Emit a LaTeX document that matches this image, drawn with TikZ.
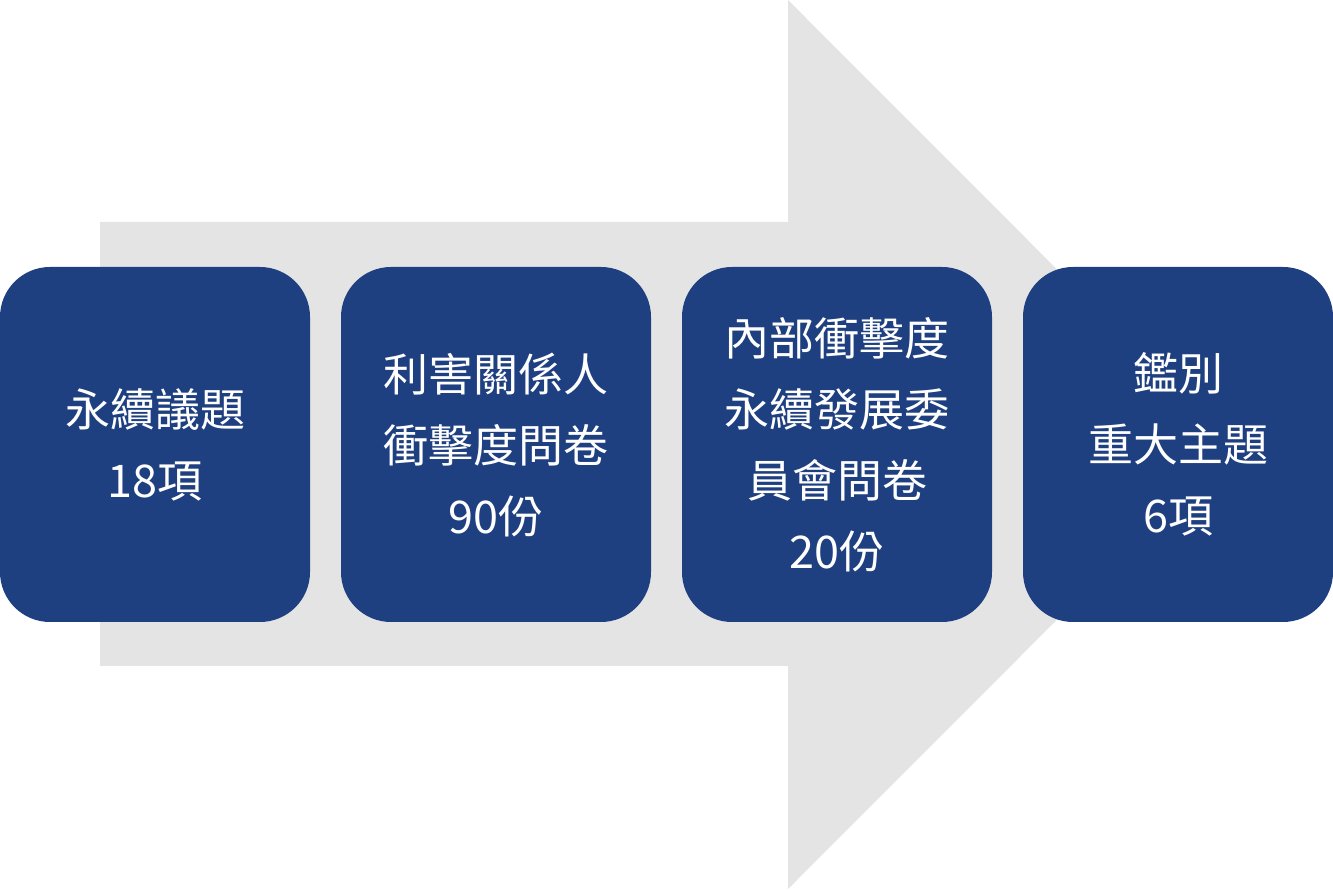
\documentclass[tikz,border=0pt]{standalone}
\usepackage{fontspec}
\setmainfont{Noto Sans CJK TC}
\definecolor{stepblue}{HTML}{1E3F80}
\definecolor{arrowgray}{HTML}{E4E4E4}
\begin{document}
\begin{tikzpicture}[x=1pt,y=1pt,
    stage/.style={fill=stepblue, text=white, rounded corners=50pt,
      minimum width=310pt, minimum height=355pt, inner sep=0pt,
      align=center, font=\fontsize{45}{71}\selectfont}]
      \useasboundingbox (0,0) rectangle (1333,889);
      \fill[arrowgray] (100,667) -- (788,667) -- (788,889) -- (1232,444.5)
        -- (788,0) -- (788,223) -- (100,223) -- cycle;
      \path
        (155,444.5) node[stage] (topics){永續議題\\18項}
        (496,444.5) node[stage] (survey){利害關係人\\衝擊度問卷\\90份}
        (837,444.5) node[stage] (internal){內部衝擊度\\永續發展委\\員會問卷\\20份}
        (1178,444.5) node[stage] (material){鑑別\\重大主題\\6項};
    \end{tikzpicture}
\end{document}
